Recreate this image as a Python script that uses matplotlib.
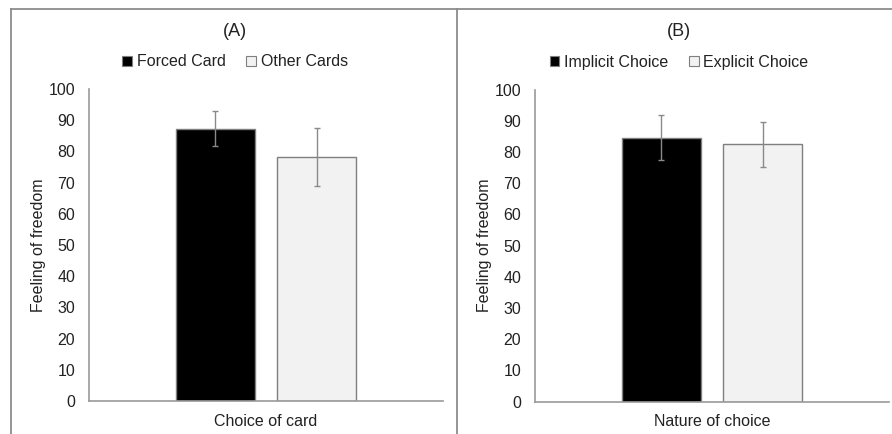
import matplotlib
matplotlib.use("Agg")
import matplotlib.pyplot as plt
from matplotlib.lines import Line2D
from matplotlib.patches import Patch

plt.rcParams['font.family'] = ['Liberation Sans', 'DejaVu Sans']

# data
titles = ['(A)', '(B)']
xlabels = ['Choice of card', 'Nature of choice']
series_names = [['Forced Card', 'Other Cards'], ['Implicit Choice', 'Explicit Choice']]
means_a = [87.3, 78.2]
errs_a = [5.5, 9.3]
means_b = [84.6, 82.4]
errs_b = [7.3, 7.2]
yticks = [0, 10, 20, 30, 40, 50, 60, 70, 80, 90, 100]

W, H = 892, 434
fig = plt.figure(figsize=(W / 100, H / 100), dpi=100)

GRAY = '#8c8c8c'
TXT = '#222222'
FS = 11.5
fills = ['#000000', '#f2f2f2']
edges = ['#7f7f7f', '#7f7f7f']


def px_axes(left, top, right, bottom):
    return fig.add_axes([left / W, 1 - bottom / H, (right - left) / W, (bottom - top) / H])


panels = [
    (px_axes(89, 89, 443, 401), means_a, errs_a, 235),
    (px_axes(535, 89.5, 889, 401.5), means_b, errs_b, 679),
]

offsets = [-0.143, 0.143]
width = 0.224

for i, (ax, means, errs, cx) in enumerate(panels):
    for j in range(2):
        ax.bar(0.5 + offsets[j], means[j], width=width, color=fills[j],
               edgecolor=edges[j], linewidth=1.0, zorder=2)
        ax.errorbar(0.5 + offsets[j], means[j], yerr=errs[j], fmt='none',
                    ecolor='#8a8a8a', elinewidth=1.0, capsize=2, capthick=1.0, zorder=3)
    ax.set_xlim(0, 1)
    ax.set_ylim(0, 100)
    ax.set_yticks(yticks)
    ax.set_xticks([])
    ax.tick_params(axis='y', length=0, pad=10, labelsize=FS, labelcolor=TXT)
    for s in ['top', 'right']:
        ax.spines[s].set_visible(False)
    for s in ['left', 'bottom']:
        ax.spines[s].set_color('#999999')
        ax.spines[s].set_linewidth(1.2)
    ax.set_ylabel('Feeling of freedom', fontsize=FS, color=TXT, labelpad=2)
    ax.set_xlabel(xlabels[i], fontsize=FS, color=TXT, labelpad=9)

    fig.text(cx / W, 1 - 31 / H, titles[i], ha='center', va='center', fontsize=13, color=TXT)
    handles = [Patch(facecolor=fills[k], edgecolor=edges[k], linewidth=0.8) for k in range(2)]
    fig.legend(handles, series_names[i], loc='center', bbox_to_anchor=(cx / W, 1 - 62 / H),
               ncol=2, frameon=False, fontsize=FS, handlelength=0.6, handleheight=0.6,
               handletextpad=0.3, columnspacing=1.3, labelcolor=TXT)

# panel frames
fig.add_artist(Line2D([11 / W, 1], [1 - 9 / H, 1 - 9 / H], color=GRAY, linewidth=1.3))
fig.add_artist(Line2D([11 / W, 11 / W], [0, 1 - 9 / H], color=GRAY, linewidth=1.3))
fig.add_artist(Line2D([457 / W, 457 / W], [0, 1 - 9 / H], color=GRAY, linewidth=1.3))

fig.savefig('out.png', dpi=100, facecolor='white')
